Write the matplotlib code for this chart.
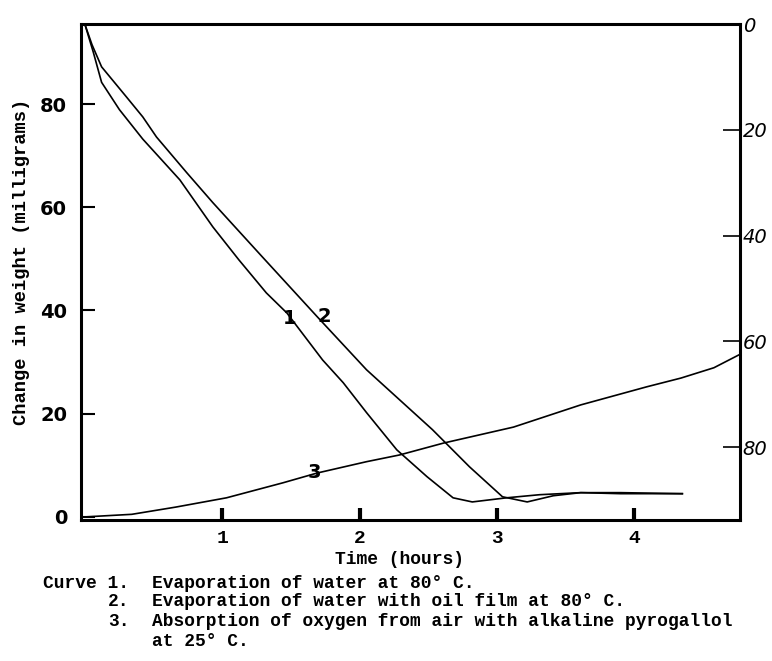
import matplotlib.pyplot as plt

# Curve 1: evaporation of water at 80 C (left axis, mg)
t1 = [0.0, 0.06, 0.12, 0.25, 0.42, 0.69, 0.93, 1.12, 1.32, 1.47, 1.73, 1.88, 2.05, 2.27, 2.49, 2.68, 2.82, 3.07, 3.31, 3.61, 3.90, 4.35]
w1 = [95.3, 90.0, 84.2, 78.9, 73.2, 65.3, 56.2, 49.8, 43.4, 39.5, 30.4, 26.0, 20.2, 13.0, 7.8, 3.7, 2.9, 3.7, 4.3, 4.7, 4.5, 4.5]

# Curve 2: evaporation of water with oil film at 80 C
t2 = [0.0, 0.05, 0.12, 0.30, 0.42, 0.52, 0.74, 0.93, 1.29, 1.69, 2.05, 2.29, 2.53, 2.80, 3.04, 3.22, 3.41, 3.61, 3.90, 4.35]
w2 = [95.3, 91.5, 87.2, 81.4, 77.5, 73.6, 66.7, 60.9, 50.4, 38.8, 28.5, 22.7, 16.9, 9.7, 3.9, 2.9, 4.1, 4.7, 4.7, 4.5]

# Curve 3: absorption of oxygen with alkaline pyrogallol at 25 C
t3 = [0.0, 0.34, 0.66, 1.03, 1.44, 1.69, 2.05, 2.29, 2.61, 3.12, 3.61, 4.09, 4.34, 4.58, 4.77]
w3 = [0.0, 0.5, 1.9, 3.7, 6.6, 8.5, 10.7, 12.0, 14.3, 17.4, 21.7, 25.2, 26.9, 28.9, 31.5]

x_ticks = [1, 2, 3, 4]
left_ticks = [0, 20, 40, 60, 80]
right_ticks = [0, 20, 40, 60, 80]

caption = [
    'Evaporation of water at 80\u00b0 C.',
    'Evaporation of water with oil film at 80\u00b0 C.',
    'Absorption of oxygen from air with alkaline pyrogallol',
    'at 25\u00b0 C.',
]

mono = 'Liberation Mono'

fig = plt.figure(figsize=(7.72, 6.61), dpi=100)
ax = fig.add_axes([81 / 772, 1 - 520 / 661, (740 - 81) / 772, (520 - 24) / 661])

for t, w in [(t1, w1), (t2, w2), (t3, w3)]:
    ax.plot(t, w, color='black', linewidth=1.2)

ax.set_xlim(-0.03, 4.77)
ax.set_ylim(-0.6, 95.5)

for side in ['left', 'bottom', 'top', 'right']:
    ax.spines[side].set_linewidth(2.2)

ax.set_xticks(x_ticks)
ax.set_xticklabels([str(v) for v in x_ticks], family=mono, fontweight='bold', fontsize=14)
ax.tick_params(axis='x', direction='in', length=9, width=3, pad=7)
ax.set_yticks(left_ticks)
ax.set_yticklabels([str(v) for v in left_ticks], fontsize=14, fontweight='bold')
ax.tick_params(axis='y', direction='in', length=10, width=1.5, pad=10)

ax2 = ax.twinx()
ax2.set_ylim(93.8, 0)
ax2.set_yticks(right_ticks)
ax2.set_yticklabels([str(v) for v in right_ticks], fontsize=14, fontstyle='italic')
ax2.tick_params(axis='y', direction='in', length=12, width=1.2, pad=2)
for side in ['left', 'bottom', 'top', 'right']:
    ax2.spines[side].set_visible(False)

ax.set_xlabel('Time (hours)', family=mono, fontweight='bold', fontsize=13, va='center')
ax.xaxis.set_label_coords((399 - 81) / 659, (520 - 560) / 496)
ax.set_ylabel('Change in weight (milligrams)', family=mono, fontweight='bold', fontsize=13.5, va='center')
ax.yaxis.set_label_coords(-(81 - 22) / 659, (520 - 262) / 496)

# curve labels
ax.text(1.49, 38.5, '1', fontsize=14, fontweight='bold', ha='center', va='center')
ax.text(1.74, 38.8, '2', fontsize=14, fontweight='bold', ha='center', va='center')
ax.text(1.67, 8.7, '3', fontsize=14, fontweight='bold', ha='center', va='center')

# caption below the chart
cap = dict(family=mono, fontweight='bold', fontsize=12.9, va='center')
rows = [583, 602, 621, 641]
fig.text(43 / 772, 1 - rows[0] / 661, 'Curve 1.', **cap)
fig.text(108 / 772, 1 - rows[1] / 661, '2.', **cap)
fig.text(108 / 772, 1 - rows[2] / 661, '3.', **cap)
for y, line in zip(rows, caption):
    fig.text(152 / 772, 1 - y / 661, line, **cap)

fig.savefig('out.png', dpi=100)
